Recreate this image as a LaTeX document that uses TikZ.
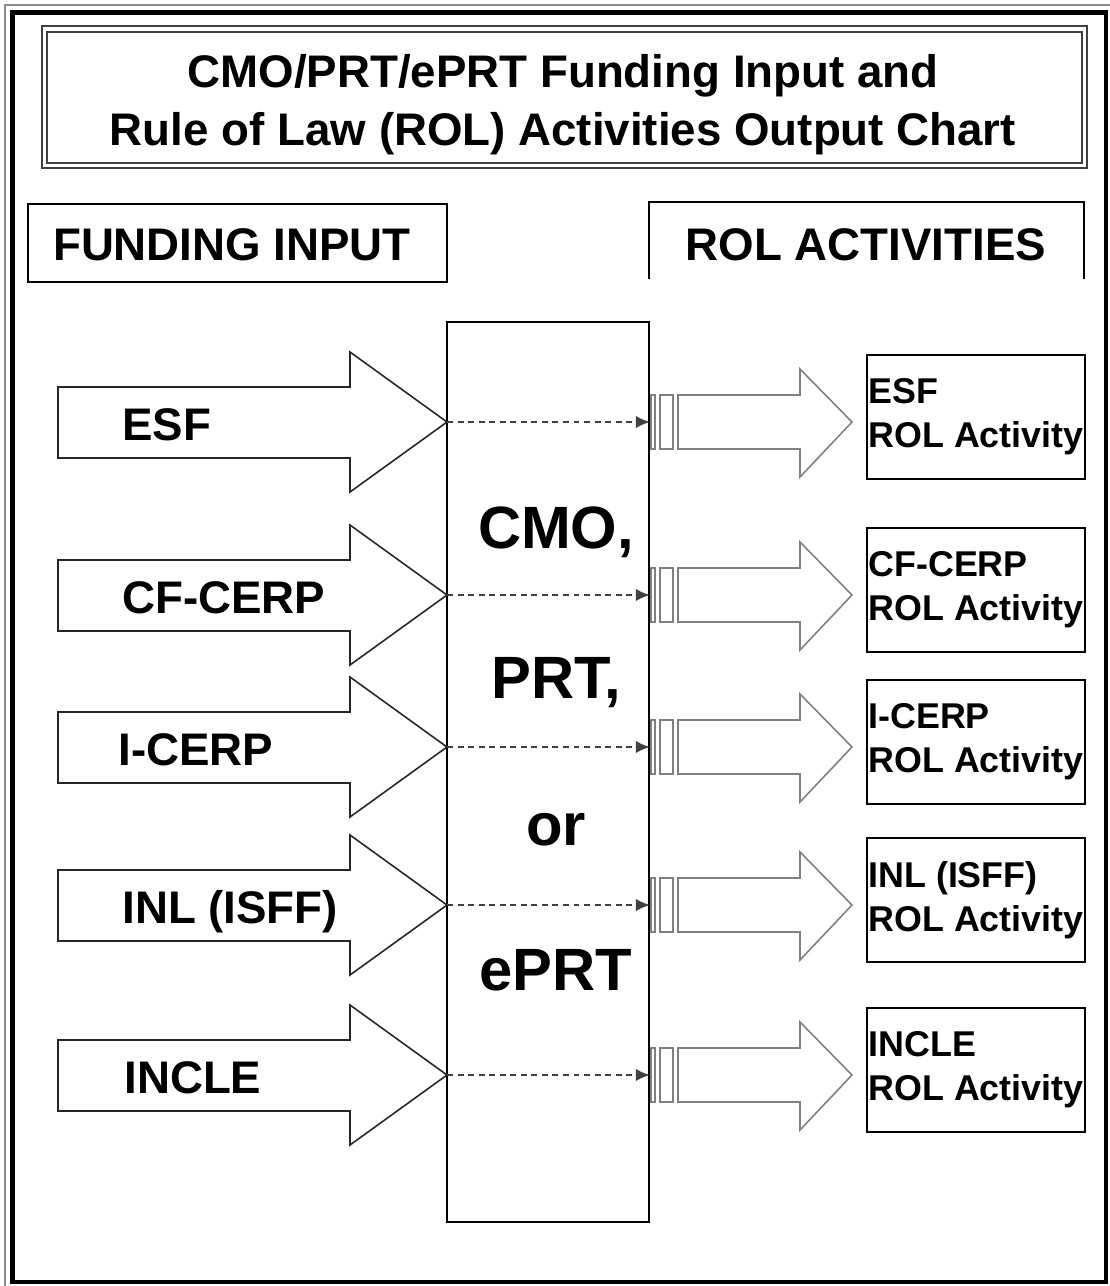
\documentclass[tikz,border=0pt]{standalone}
\usepackage{fontspec}
\setmainfont{Liberation Sans}
\usetikzlibrary{arrows.meta, calc, positioning}

\tikzset{
  bigfont/.style={font=\bfseries\fontsize{26}{30}\selectfont},
  hubfont/.style={font=\bfseries\fontsize{34}{40}\selectfont},
  smallfont/.style={font=\bfseries\fontsize{20.4}{24.9}\selectfont},
  inarrow/.style={draw=black!85, line width=0.9pt, fill=white},
  outarrow/.style={draw=black!50, line width=0.9pt, fill=white},
  feed/.style={draw=black!75, line width=0.9pt, dash pattern=on 3.4pt off 2.6pt,
    -{Latex[length=8pt,width=7pt]}},
  outbox/.style={draw, line width=1.1pt, minimum width=4.36cm, minimum height=2.48cm, inner sep=0pt},
  outtext/.style={smallfont, align=left, inner sep=0pt},
}

\begin{document}
\begin{tikzpicture}[x=0.02cm, y=-0.02cm]
\useasboundingbox (0,0) rectangle (1110,1286);
%% outer frame
\draw[black!45, line width=0.6pt] (5,1286) -- (5,5) -- (1110,5);
\draw[line width=2.8pt] (12.5,12.5) rectangle (1106,1282);

%% title box (double rule)
\draw[black!75, line width=1.3pt] (42,26) rectangle (1087,168);
\draw[black!75, line width=1.3pt] (47,32) rectangle (1082,163);
\node[bigfont, anchor=base] (title1) at (563,87) {CMO/PRT/ePRT Funding Input and};
\node[bigfont, anchor=base] (title2) at (563,145) {Rule of Law (ROL) Activities Output Chart};

%% column heads
\node[draw, line width=1.1pt, minimum width=8.38cm, minimum height=1.56cm, inner sep=0pt] (funding) at (237.5,243) {};
\node[bigfont, anchor=base] (fundtxt) at (232,260) {FUNDING INPUT};
\draw[line width=1.1pt] (649,279) -- (649,202) -- (1084,202) -- (1084,279);
\node[bigfont, anchor=base] (roltxt) at (866,260) {ROL ACTIVITIES};

%% the middle box
\node[draw, line width=1.1pt, minimum width=4.04cm, minimum height=18cm, inner sep=0pt] (hub) at (548,772) {};
\foreach \w/\yb in {{CMO,}/548, {PRT,}/698, or/845, ePRT/990}
  \node[hubfont, anchor=base] at (556,\yb) {\w};

%% one row per fund: input arrow, dashed feed, output arrow, activity box
\foreach \c/\nm/\lx [count=\i] in {422/ESF/122, 595/CF-CERP/122, 747/I-CERP/118, 905/{INL (ISFF)}/122, 1075/INCLE/124} {
  \draw[inarrow] (58,\c-35) -- (350,\c-35) -- (350,\c-70) -- (447,\c) coordinate (tip\i)
     -- (350,\c+70) -- (350,\c+36) -- (58,\c+36) -- cycle;
  \node[bigfont, inner sep=0pt, anchor=base west] (fund\i) at (\lx,\c+18) {\nm};
  \draw[feed] (tip\i) -- (hub.east |- tip\i);
  %% striped tail + arrow
  \draw[outarrow] (651,\c-27) rectangle (655,\c+27);
  \draw[outarrow] (660,\c-27) rectangle (673,\c+27);
  \draw[outarrow] (678,\c-27) -- (800,\c-27) -- (800,\c-53) -- (852,\c) coordinate (head\i)
     -- (800,\c+55) -- (800,\c+27) -- (678,\c+27) -- cycle;
  \node[outbox] (box\i) at (976,\c-5) {};
  \node[outtext, anchor=west] (act\i) at ([xshift=0.04cm]box\i.west) {\nm\\ROL Activity};
}
\end{tikzpicture}
\end{document}
